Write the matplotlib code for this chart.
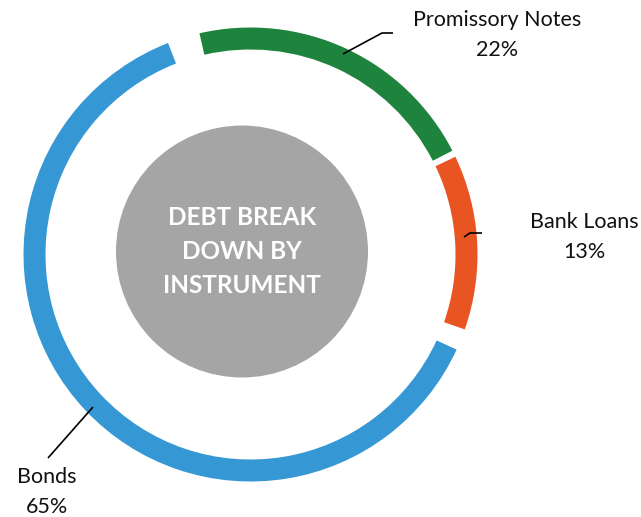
import matplotlib
matplotlib.use("Agg")
import matplotlib.pyplot as plt

# ---- data ----
categories = ["Promissory Notes", "Bank Loans", "Bonds"]
values = [22, 13, 65]  # percent
colors = ["#1E843D", "#E95522", "#3597D4"]
center_title = "DEBT BREAK\nDOWN BY\nINSTRUMENT"

# ---- layout (pixels) ----
W, H = 641, 517
gaps = [1.7, 5.5, 8.3]          # degrees after each segment
start_angle = 103.0
cx, cy = 250.5, H - 254.5
r_out, ring_w = 227, 22

plt.rcParams['font.family'] = ['Lato', 'DejaVu Sans']
fig = plt.figure(figsize=(W / 100, H / 100), dpi=100)
ax = fig.add_axes([0, 0, 1, 1])

span = 360 - sum(gaps)
sizes, cols = [], []
for v, g, c in zip(values, gaps, colors):
    sizes += [v / 100 * span, g]
    cols += [c, 'none']

wedges, _ = ax.pie(sizes, colors=cols, startangle=start_angle, counterclock=False,
                   radius=r_out, center=(cx, cy), frame=True,
                   wedgeprops=dict(width=ring_w, linewidth=0))
ax.set_xlim(0, W)
ax.set_ylim(0, H)
ax.set_aspect('equal')
ax.axis('off')

# center gray disc
ax.add_patch(plt.Circle((242, H - 251.5), 126, color="#A5A5A5", lw=0))
ax.text(242, H - 251.5, center_title, ha='center', va='center', color='white',
        fontsize=17.5, fontweight='bold', linespacing=1.6)

# labels with leader lines
label_pos = [(497, 35), (584, 237), (47, 492)]
leaders = [[(343, 54), (382, 33), (393, 33)],
           [(464, 237), (470, 233), (482, 233)],
           [(48, 458), (93, 407)]]
for cat, v, (lx, ly), pts in zip(categories, values, label_pos, leaders):
    ax.text(lx, H - ly, f"{cat}\n{v}%", ha='center', va='center', fontsize=15.5,
            color='#111111', linespacing=1.68)
    xs = [p[0] for p in pts]
    ys = [H - p[1] for p in pts]
    ax.plot(xs, ys, color='black', lw=1.2, solid_capstyle='butt')

fig.savefig("out.png", dpi=100)
